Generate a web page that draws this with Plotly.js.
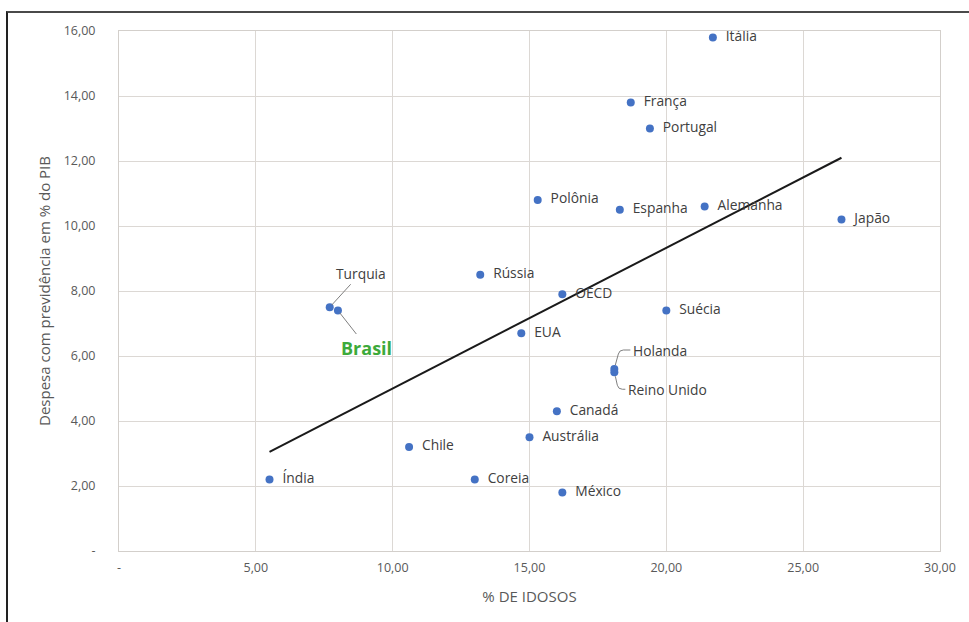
<!DOCTYPE html>
<html>
<head>
<meta charset="utf-8">
<script src="https://cdn.plot.ly/plotly-3.0.1.min.js"></script>
<style>
  html, body { margin: 0; padding: 0; background: #fff; }
  #wrap { position: relative; width: 969px; height: 622px; }
  #chart { width: 969px; height: 622px; }
  #frame { position: absolute; left: 6px; top: 11px; width: 963px; height: 611px;
           border-top: 2px solid #4a4a4a; border-left: 2px solid #222; pointer-events: none; }
</style>
</head>
<body>
<div id="wrap">
  <div id="chart"></div>
  <div id="frame"></div>
</div>
<script>
// ---- data ----
const countries = ["Itália","França","Portugal","Polônia","Espanha","Alemanha","Japão","Rússia","OECD","Turquia","Brasil","Suécia","EUA","Holanda","Reino Unido","Canadá","Austrália","Chile","Índia","Coreia","México"];
const idosos    = [21.7, 18.7, 19.4, 15.3, 18.3, 21.4, 26.4, 13.2, 16.2, 7.7, 8.0, 20.0, 14.7, 18.1, 18.1, 16.0, 15.0, 10.6, 5.5, 13.0, 16.2];
const despesa   = [15.8, 13.8, 13.0, 10.8, 10.5, 10.6, 10.2, 8.5, 7.9, 7.5, 7.4, 7.4, 6.7, 5.6, 5.5, 4.3, 3.5, 3.2, 2.2, 2.2, 1.8];
const trendX = [5.5, 26.4];
const trendY = [3.05, 12.1];
const xTickVals = [0, 5, 10, 15, 20, 25, 30];
const xTickText = ["-", "5,00", "10,00", "15,00", "20,00", "25,00", "30,00"];
const yTickVals = [0, 2, 4, 6, 8, 10, 12, 14, 16];
const yTickText = ["-", "2,00", "4,00", "6,00", "8,00", "10,00", "12,00", "14,00", "16,00"];
const specialLabels = ["Turquia", "Brasil", "Holanda", "Reino Unido"];

const FONT = "Open Sans, Noto Sans, sans-serif";
const LBL = 13.8;
const labelText = countries.map(c => specialLabels.includes(c) ? "" : "\u2002" + c);
const idx = name => countries.indexOf(name);

const traces = [
  {
    x: trendX, y: trendY, type: "scatter", mode: "lines",
    line: { color: "#1a1a1a", width: 2 }, hoverinfo: "skip", showlegend: false
  },
  {
    x: idosos, y: despesa, type: "scatter", mode: "markers+text",
    text: labelText, textposition: "middle right",
    textfont: { family: FONT, size: LBL, color: "#404040" },
    marker: { color: "#4472c4", size: 8 },
    showlegend: false, cliponaxis: false
  }
];

const iT = idx("Turquia"), iB = idx("Brasil"), iH = idx("Holanda"), iR = idx("Reino Unido");
const annotations = [
  { x: idosos[iT], y: despesa[iT], text: "Turquia", showarrow: true, arrowhead: 0,
    arrowwidth: 1, arrowcolor: "#7f7f7f", ax: 31, ay: -34, standoff: 3,
    font: { family: FONT, size: LBL, color: "#404040" } },
  { x: idosos[iB], y: despesa[iB], text: "<b>Brasil</b>", showarrow: true, arrowhead: 0,
    arrowwidth: 1, arrowcolor: "#7f7f7f", ax: 29, ay: 37, standoff: 3,
    font: { family: FONT, size: 18, color: "#3daa3a" } },
  { x: idosos[iH], y: despesa[iH], text: "Holanda", showarrow: false,
    xanchor: "left", xshift: 17, yshift: 19,
    font: { family: FONT, size: LBL, color: "#404040" } },
  { x: idosos[iR], y: despesa[iR], text: "Reino Unido", showarrow: false,
    xanchor: "left", xshift: 12, yshift: -17,
    font: { family: FONT, size: LBL, color: "#404040" } }
];

const shapes = [
  { type: "path", xref: "x", yref: "y", xsizemode: "pixel", ysizemode: "pixel",
    xanchor: idosos[iH], yanchor: despesa[iH],
    path: "M 1 4 L 4 15 Q 5 19 9 19 L 16 19", line: { color: "#7f7f7f", width: 1 } },
  { type: "path", xref: "x", yref: "y", xsizemode: "pixel", ysizemode: "pixel",
    xanchor: idosos[iR], yanchor: despesa[iR],
    path: "M 1 -4 L 3 -13 Q 4 -17 8 -17 L 11 -17", line: { color: "#7f7f7f", width: 1 } }
];

const layout = {
  width: 969, height: 622,
  margin: { l: 119, r: 29, t: 31, b: 71 },
  paper_bgcolor: "#ffffff", plot_bgcolor: "#ffffff",
  font: { family: FONT, color: "#595959" },
  xaxis: {
    range: [0, 30], tickvals: xTickVals, ticktext: xTickText,
    showgrid: true, gridcolor: "#dcd8d4", gridwidth: 1,
    showline: true, linecolor: "#d3cfcb", mirror: true, zeroline: false,
    ticks: "outside", ticklen: 5, tickcolor: "rgba(0,0,0,0)",
    tickfont: { family: FONT, size: 12.5, color: "#595959" },
    title: { text: "% DE IDOSOS", font: { family: FONT, size: 15, color: "#595959" }, standoff: 16 }
  },
  yaxis: {
    range: [0, 16], tickvals: yTickVals, ticktext: yTickText,
    showgrid: true, gridcolor: "#dcd8d4", gridwidth: 1,
    showline: true, linecolor: "#d3cfcb", mirror: true, zeroline: false,
    ticks: "outside", ticklen: 20, tickcolor: "rgba(0,0,0,0)",
    tickfont: { family: FONT, size: 12.5, color: "#595959" },
    title: { text: "Despesa com previdência em % do PIB", font: { family: FONT, size: 15, color: "#595959" }, standoff: 9 }
  },
  annotations: annotations,
  shapes: shapes,
  showlegend: false
};

Plotly.newPlot("chart", traces, layout, { displayModeBar: false, staticPlot: true });
</script>
</body>
</html>
